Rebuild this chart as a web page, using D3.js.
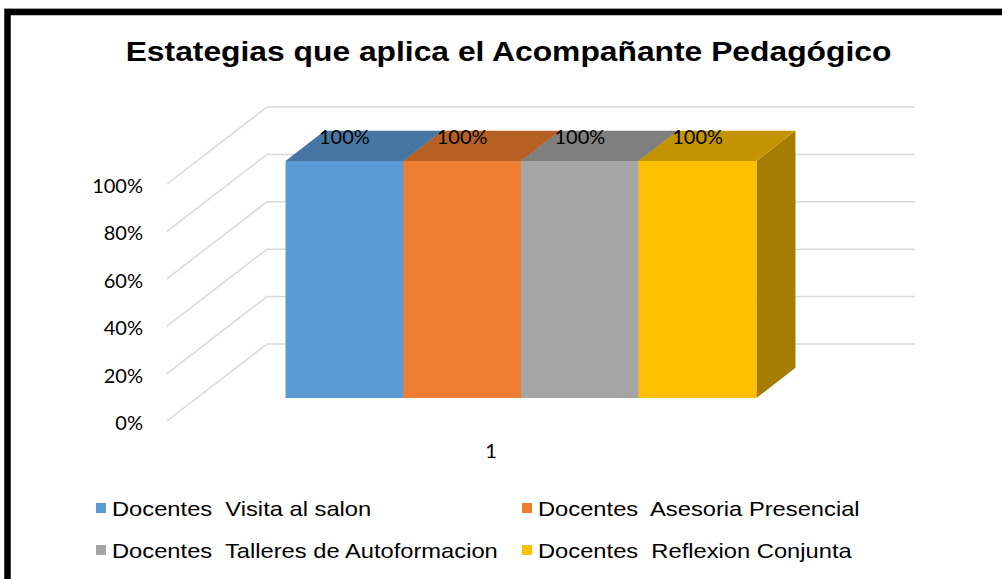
<!DOCTYPE html>
<html><head><meta charset="utf-8">
<script src="https://cdn.jsdelivr.net/npm/d3@7"></script>
<style>body{margin:0;background:#fff;} svg{display:block} text{white-space:pre}</style>
</head><body>
<svg id="chart" width="1002" height="579"></svg>
<script>
const title = "Estategias que aplica el Acompañante Pedagógico";
const categories = ["1"];
const seriesNames = ["Docentes  Visita al salon", "Docentes  Asesoria Presencial", "Docentes  Talleres de Autoformacion", "Docentes  Reflexion Conjunta"];
const seriesValues = [1, 1, 1, 1];
const seriesColors = ["#5b9bd5", "#ed7d31", "#a5a5a5", "#ffc000"];
const yTicks = [0, 0.2, 0.4, 0.6, 0.8, 1];
const yTickLabels = ["0%", "20%", "40%", "60%", "80%", "100%"];

const svg = d3.select("#chart");
const STRETCH = 1.13;
const numFont = "Lato, 'Open Sans', sans-serif";

// frame
svg.append("line").attr("x1", 4).attr("x2", 1002).attr("y1", 8.5).attr("y2", 8.5)
  .attr("stroke", "#d0d0d0").attr("stroke-width", 1);
svg.append("rect").attr("x", 7.5).attr("y", 12).attr("width", 1100).attr("height", 700)
  .attr("fill", "none").attr("stroke", "#000").attr("stroke-width", 6.5);

// title
svg.append("text").text(title)
  .attr("transform", `translate(508.5,61) scale(1.136,1)`)
  .attr("text-anchor", "middle")
  .attr("font-family", "'Liberation Sans', Arial, sans-serif")
  .attr("font-weight", "bold").attr("font-size", 28).attr("fill", "#000");

// scales / projection
const y = d3.scaleLinear().domain([0, 1]).range([421, 184]);
const x = d3.scaleBand().domain(categories).range([167, 815]).paddingInner(0).paddingOuter(0.188);
const xs = d3.scaleBand().domain(d3.range(seriesNames.length)).range([0, x.bandwidth()]);
const depth = { dx: 100, dy: -77 };
const d0 = 0.3, d1 = 0.69;
function P(px, v, d) { return [px + d * depth.dx, y(v) + d * depth.dy]; }
const line = d3.line();
const wallLeft = x.range()[0], wallRight = x.range()[1];

// gridlines (side wall diagonals + back wall)
svg.append("g").selectAll("path").data(yTicks).join("path")
  .attr("d", t => line([P(wallLeft, t, 0), P(wallLeft, t, 1), P(wallRight, t, 1)]))
  .attr("fill", "none").attr("stroke", "#d9d9d9").attr("stroke-width", 1.5);

// y axis labels
const yAxis = svg.append("g").attr("transform", "translate(143,0)")
  .call(d3.axisLeft(y).tickValues(yTicks).tickFormat((d, i) => yTickLabels[i]).tickSize(0).tickPadding(0));
yAxis.select(".domain").remove();
yAxis.selectAll("text")
  .attr("font-family", numFont).attr("font-size", 20).attr("fill", "#000")
  .attr("dy", "0.42em");

// x axis label
const xAxis = svg.append("g").attr("transform", `translate(0,${y(0)})`)
  .call(d3.axisBottom(x).tickSize(0).tickPadding(23));
xAxis.select(".domain").remove();
xAxis.selectAll("text")
  .attr("font-family", numFont).attr("font-size", 20).attr("fill", "#000");

// bars
function shade(c, k) { const r = d3.rgb(c); return d3.rgb(r.r * k, r.g * k, r.b * k).formatHex(); }
const bars = seriesValues.map((v, i) => {
  const xl = x(categories[0]) + xs(i), xr = xl + xs.bandwidth();
  return { i, v, xl, xr, color: seriesColors[i] };
});
const gb = svg.append("g");
bars.forEach(b => {
  gb.append("path").attr("d", line([P(b.xr, 0, d0), P(b.xr, 0, d1), P(b.xr, b.v, d1), P(b.xr, b.v, d0)]) + "Z")
    .attr("fill", shade(b.color, 0.65));
  gb.append("path").attr("d", line([P(b.xl, b.v, d0), P(b.xr, b.v, d0), P(b.xr, b.v, d1), P(b.xl, b.v, d1)]) + "Z")
    .attr("fill", shade(b.color, 0.77));
  gb.append("path").attr("d", line([P(b.xl, 0, d0), P(b.xr, 0, d0), P(b.xr, b.v, d0), P(b.xl, b.v, d0)]) + "Z")
    .attr("fill", b.color);
});

// data labels
const fmt = d3.format(".0%");
svg.append("g").selectAll("text").data(bars).join("text")
  .text(b => fmt(b.v))
  .attr("transform", b => { const p = P((b.xl + b.xr) / 2, b.v, d0); return `translate(${p[0]},${p[1] - 17})`; })
  .attr("text-anchor", "middle")
  .attr("font-family", numFont).attr("font-size", 20).attr("fill", "#000");

// legend
const legCols = [96, 522], legRows = [508, 550];
const lg = svg.append("g").selectAll("g").data(seriesNames).join("g")
  .attr("transform", (d, i) => `translate(${legCols[i % 2]},${legRows[Math.floor(i / 2)]})`);
lg.append("rect").attr("x", 0).attr("y", -5).attr("width", 10).attr("height", 10)
  .attr("fill", (d, i) => seriesColors[i]);
lg.append("text").text(d => d)
  .attr("transform", `translate(16,7.5) scale(${STRETCH},1)`)
  .attr("font-family", "'Liberation Sans', Arial, sans-serif").attr("font-size", 21).attr("fill", "#000");
</script>
</body></html>
